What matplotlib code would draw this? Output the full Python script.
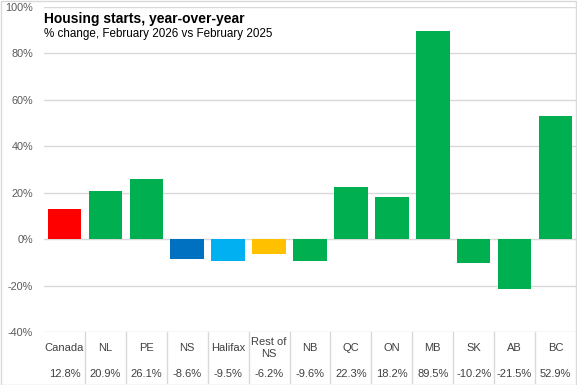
import matplotlib
matplotlib.use("Agg")
import matplotlib.pyplot as plt
from matplotlib.patches import Rectangle
import matplotlib.transforms as mtransforms

categories = ["Canada", "NL", "PE", "NS", "Halifax", "Rest of\nNS", "NB", "QC", "ON", "MB", "SK", "AB", "BC"]
values = [12.8, 20.9, 26.1, -8.6, -9.5, -6.2, -9.6, 22.3, 18.2, 89.5, -10.2, -21.5, 52.9]
colors = ["#FF0000", "#00B050", "#00B050", "#0070C0", "#00B0F0", "#FFC000", "#00B050",
          "#00B050", "#00B050", "#00B050", "#00B050", "#00B050", "#00B050"]
yticks = [-40, -20, 0, 20, 40, 60, 80, 100]

plt.rcParams['font.family'] = ['Liberation Sans', 'DejaVu Sans']

W, H = 577, 385
fig = plt.figure(figsize=(W / 100, H / 100), dpi=100)
ax = fig.add_axes([44 / W, 1 - 332 / H, (576 - 44) / W, (332 - 7) / H])

x = list(range(len(categories)))
ax.bar(x, values, width=0.82, color=colors, zorder=3)
ax.set_xlim(-0.5, len(categories) - 0.5)
ax.set_ylim(-40, 100)
ax.set_yticks(yticks)
ax.set_yticklabels([f"{t}%" for t in yticks], fontsize=7.8, color="#595959")
ax.tick_params(axis='y', length=0, pad=8)
ax.set_xticks([])
ax.grid(axis='y', color="#D9D9D9", linewidth=1, zorder=0)
for s in ax.spines.values():
    s.set_visible(False)

trans = mtransforms.blended_transform_factory(ax.transData, ax.transAxes)
bottom = -(383 - 332) / (332 - 7)
for k in range(1, len(categories)):
    ax.plot([k - 0.5, k - 0.5], [0, bottom], transform=trans, color="#D9D9D9",
            linewidth=1, clip_on=False)
for i, (c, v) in enumerate(zip(categories, values)):
    ax.text(i, -(348 - 332) / 325, c, transform=trans, ha='center', va='center',
            fontsize=8, color="#404040", clip_on=False, linespacing=1.3)
    ax.text(i, -(374 - 332) / 325, f"{v:.1f}%", transform=trans, ha='center', va='center',
            fontsize=8, color="#404040", clip_on=False)

fig.text(44 / W, 1 - 22.5 / H, "Housing starts, year-over-year", fontsize=10,
         fontweight='bold', color="#000000", va='baseline', ha='left')
fig.text(44 / W, 1 - 37.5 / H, "% change, February 2026 vs February 2025", fontsize=8.4,
         color="#000000", va='baseline', ha='left')

fig.patches.append(Rectangle((0.5 / W, 0.5 / H), 1 - 1.5 / W, 1 - 1.5 / H, transform=fig.transFigure,
                             fill=False, edgecolor="#D9D9D9", linewidth=1))

fig.savefig("out.png", dpi=100)
